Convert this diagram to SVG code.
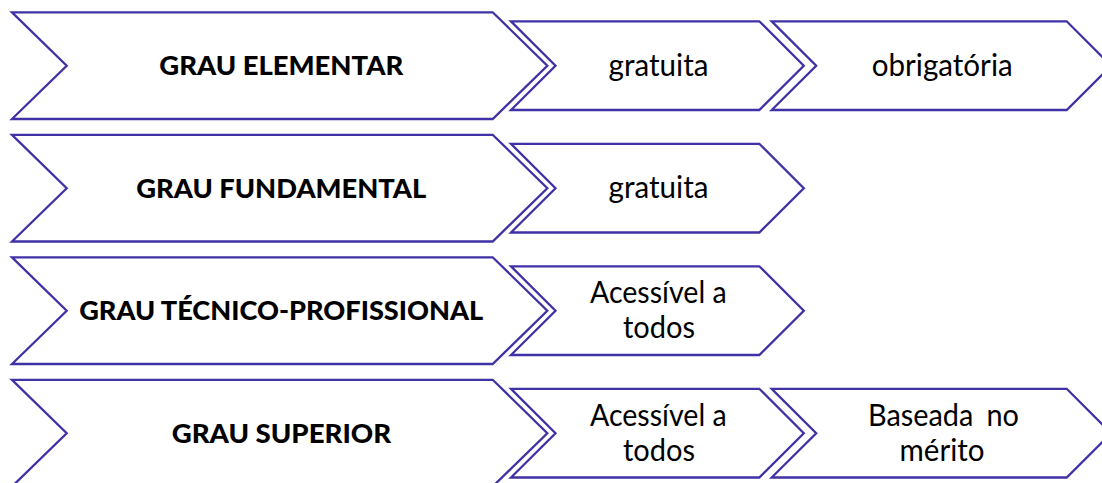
<svg xmlns="http://www.w3.org/2000/svg" width="1102" height="483" viewBox="0 0 1102 483">
<style>
.chev{fill:#ffffff;stroke:#3F32A6;stroke-width:2.3;stroke-linejoin:miter}
.big{font-family:Lato,"Open Sans","Liberation Sans",sans-serif;font-weight:900;font-size:26.5px;fill:#000;text-anchor:middle}
.sm{font-family:Lato,"Open Sans","Liberation Sans",sans-serif;font-size:30px;fill:#000;text-anchor:middle}
</style>
<rect width="1102" height="483" fill="#ffffff"/>
<g id="row1-main">
<polygon class="chev" points="12,12.3 492.7,12.3 547.3,65.7 492.7,119 12,119 66.7,65.7"/>
<text class="big" x="281.3" y="75.3" textLength="244" lengthAdjust="spacingAndGlyphs">GRAU ELEMENTAR</text>
</g>
<g id="row1-gratuita">
<polygon class="chev" points="511,21.3 759.3,21.3 803.8,65.7 759.3,110 511,110 555.5,65.7"/>
<text class="sm" x="658.5" y="75.5" textLength="100" lengthAdjust="spacingAndGlyphs">gratuita</text>
</g>
<g id="row1-obrigatoria">
<polygon class="chev" points="771.7,21.3 1066.7,21.3 1111.2,65.7 1066.7,110 771.7,110 816.2,65.7"/>
<text class="sm" x="942.2" y="75.5" textLength="141" lengthAdjust="spacingAndGlyphs">obrigatória</text>
</g>
<g id="row2-main">
<polygon class="chev" points="12,134.8 492.7,134.8 547.3,188.2 492.7,241.5 12,241.5 66.7,188.2"/>
<text class="big" x="281.3" y="197.9" textLength="290" lengthAdjust="spacingAndGlyphs">GRAU FUNDAMENTAL</text>
</g>
<g id="row2-gratuita">
<polygon class="chev" points="511,143.8 759.3,143.8 803.8,188.2 759.3,232.5 511,232.5 555.5,188.2"/>
<text class="sm" x="658.5" y="198" textLength="100" lengthAdjust="spacingAndGlyphs">gratuita</text>
</g>
<g id="row3-main">
<polygon class="chev" points="12,257.3 492.7,257.3 547.3,310.7 492.7,364 12,364 66.7,310.7"/>
<text class="big" x="281.2" y="320.4" textLength="404" lengthAdjust="spacingAndGlyphs">GRAU TÉCNICO-PROFISSIONAL</text>
</g>
<g id="row3-acessivel">
<polygon class="chev" points="511,266.3 759.3,266.3 803.8,310.7 759.3,355 511,355 555.5,310.7"/>
<text class="sm" x="658.3" y="303" textLength="136.7" lengthAdjust="spacingAndGlyphs">Acessível a</text>
<text class="sm" x="659" y="338" textLength="72" lengthAdjust="spacingAndGlyphs">todos</text>
</g>
<g id="row4-main">
<polygon class="chev" points="12,379.8 492.7,379.8 547.3,433.2 492.7,486.5 12,486.5 66.7,433.2"/>
<text class="big" x="281.4" y="442.9" textLength="219.5" lengthAdjust="spacingAndGlyphs">GRAU SUPERIOR</text>
</g>
<g id="row4-acessivel">
<polygon class="chev" points="511,388.8 759.3,388.8 803.8,433.2 759.3,477.5 511,477.5 555.5,433.2"/>
<text class="sm" x="658.3" y="425.5" textLength="136.7" lengthAdjust="spacingAndGlyphs">Acessível a</text>
<text class="sm" x="659" y="460.5" textLength="72" lengthAdjust="spacingAndGlyphs">todos</text>
</g>
<g id="row4-merito">
<polygon class="chev" points="771.7,388.8 1066.7,388.8 1111.2,433.2 1066.7,477.5 771.7,477.5 816.2,433.2"/>
<text class="sm" x="943.5" y="425.5" textLength="151" lengthAdjust="spacingAndGlyphs">Baseada<tspan dx="6"> no</tspan></text>
<text class="sm" x="942" y="460.5" textLength="85" lengthAdjust="spacingAndGlyphs">mérito</text>
</g>
<g id="connectors"></g>
</svg>
